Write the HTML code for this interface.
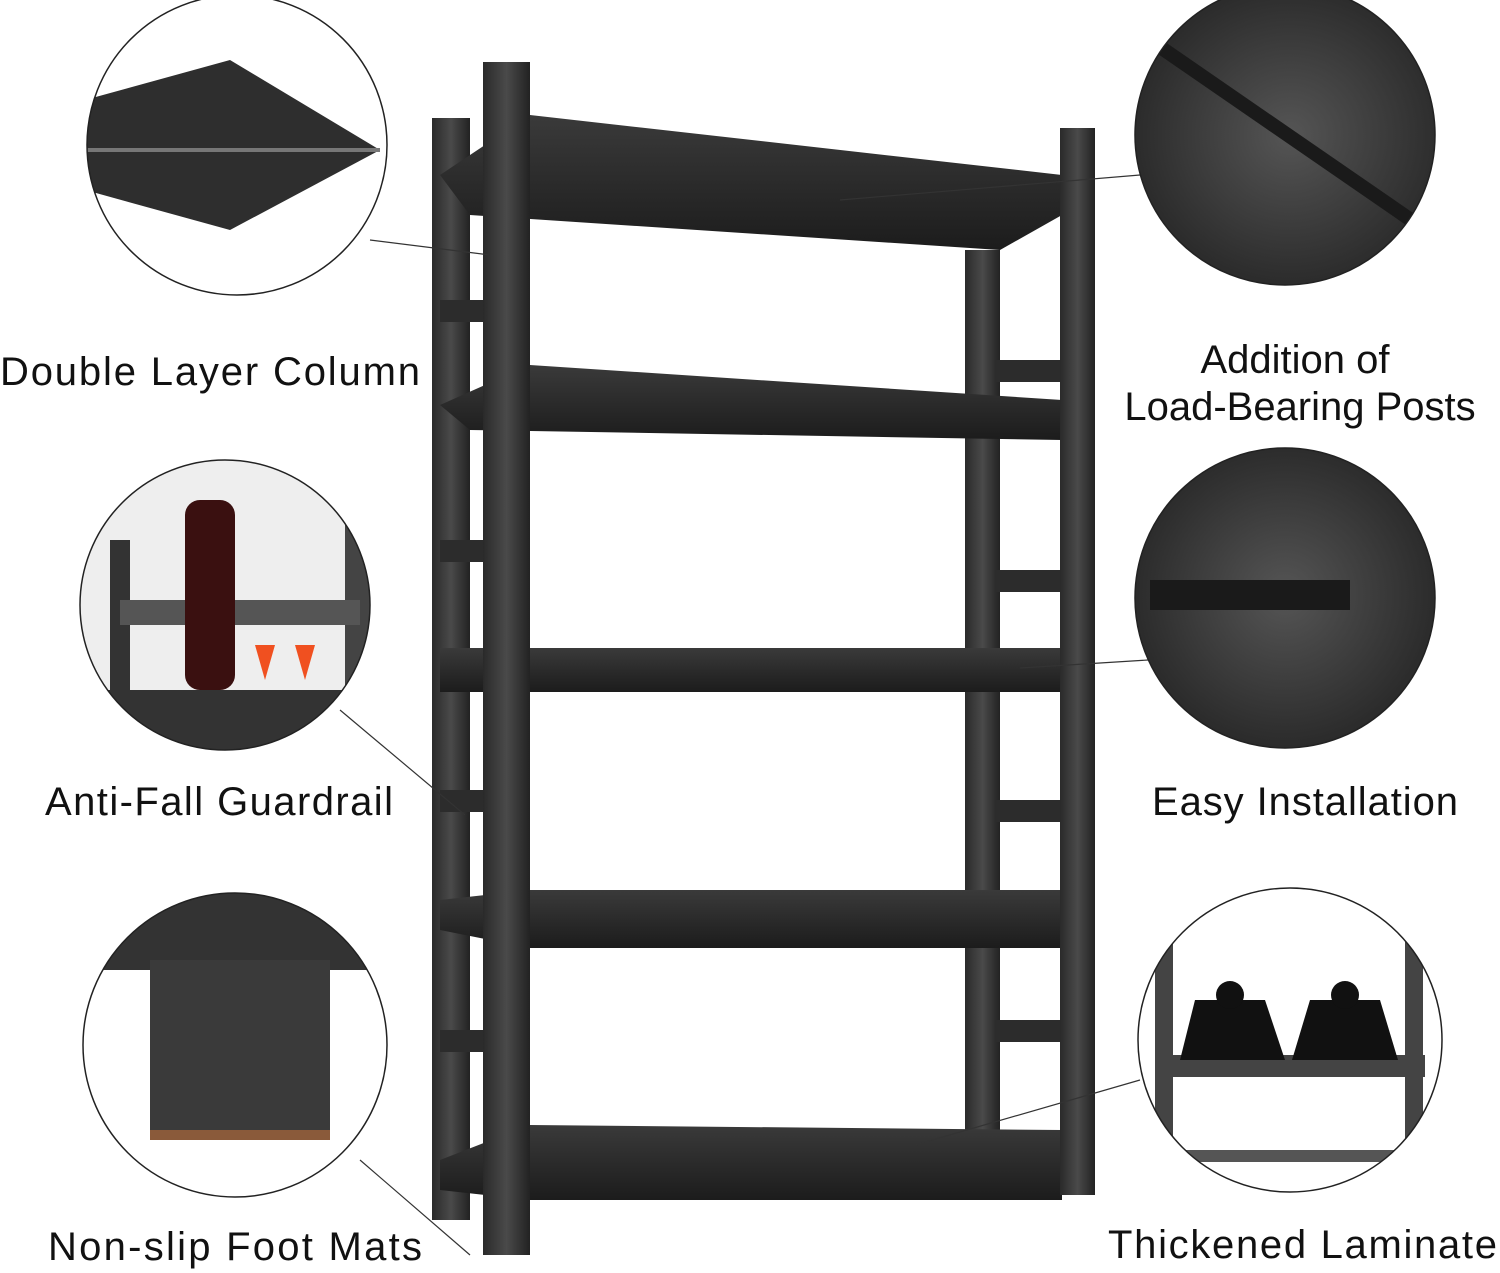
<!DOCTYPE html>
<html><head><meta charset="utf-8"><style>
html,body{margin:0;padding:0;background:#fff;}
svg{display:block}
text{font-family:"Liberation Sans",sans-serif;fill:#111;font-size:40px}
</style></head><body>
<svg width="1500" height="1273" viewBox="0 0 1500 1273" xmlns="http://www.w3.org/2000/svg">
<defs>
<linearGradient id="post" x1="0" x2="1"><stop offset="0" stop-color="#2a2a2a"/><stop offset=".5" stop-color="#4a4a4a"/><stop offset="1" stop-color="#222"/></linearGradient>
<linearGradient id="shelf" x1="0" y1="0" x2="0" y2="1"><stop offset="0" stop-color="#3a3a3a"/><stop offset="1" stop-color="#1c1c1c"/></linearGradient>
<radialGradient id="dk"><stop offset="0" stop-color="#555"/><stop offset="1" stop-color="#2a2a2a"/></radialGradient>
<clipPath id="c1"><circle cx="237" cy="145" r="150"/></clipPath>
<clipPath id="c2"><circle cx="1285" cy="135" r="150"/></clipPath>
<clipPath id="c3"><circle cx="225" cy="605" r="145"/></clipPath>
<clipPath id="c4"><circle cx="1285" cy="598" r="150"/></clipPath>
<clipPath id="c5"><circle cx="235" cy="1045" r="152"/></clipPath>
<clipPath id="c6"><circle cx="1290" cy="1040" r="152"/></clipPath>
</defs>

<!-- back posts -->
<rect x="432" y="118" width="38" height="1102" fill="url(#post)"/>
<rect x="965" y="250" width="35" height="915" fill="url(#post)"/>
<!-- side rungs -->
<g fill="#2c2c2c">
<rect x="440" y="300" width="45" height="22"/><rect x="440" y="540" width="45" height="22"/>
<rect x="440" y="790" width="45" height="22"/><rect x="440" y="1030" width="45" height="22"/>
<rect x="995" y="360" width="65" height="22"/><rect x="995" y="570" width="65" height="22"/>
<rect x="995" y="800" width="65" height="22"/><rect x="995" y="1020" width="65" height="22"/>
</g>
<!-- shelves -->
<polygon points="440,175 530,115 1062,175 1062,215 1000,250 470,215" fill="url(#shelf)"/>
<polygon points="440,405 530,365 1062,400 1062,440 470,430" fill="url(#shelf)"/>
<rect x="440" y="648" width="622" height="44" fill="url(#shelf)"/>
<polygon points="440,900 530,890 1062,890 1062,948 530,948 440,930" fill="url(#shelf)"/>
<polygon points="440,1160 530,1125 1062,1130 1062,1200 530,1200 440,1190" fill="url(#shelf)"/>
<!-- front posts -->
<rect x="483" y="62" width="47" height="1193" fill="url(#post)"/>
<rect x="1060" y="128" width="35" height="1067" fill="url(#post)"/>

<!-- leader lines -->
<g stroke="#333" stroke-width="1.2" fill="none">
<line x1="370" y1="240" x2="490" y2="255"/>
<line x1="1140" y1="175" x2="840" y2="200"/>
<line x1="340" y1="710" x2="465" y2="815"/>
<line x1="1148" y1="660" x2="1020" y2="668"/>
<line x1="360" y1="1160" x2="470" y2="1255"/>
<line x1="1140" y1="1080" x2="915" y2="1145"/>
</g>

<!-- circles -->
<g clip-path="url(#c1)"><rect x="80" y="0" width="320" height="300" fill="#fff"/>
<polygon points="85,100 230,60 380,150 230,230 85,190" fill="#2e2e2e"/>
<line x1="85" y1="150" x2="380" y2="150" stroke="#777" stroke-width="4"/></g>
<circle cx="237" cy="145" r="150" fill="none" stroke="#222" stroke-width="1.5"/>

<g clip-path="url(#c2)"><rect x="1130" y="-20" width="320" height="310" fill="url(#dk)"/>
<line x1="1150" y1="40" x2="1440" y2="240" stroke="#1a1a1a" stroke-width="14"/></g>
<circle cx="1285" cy="135" r="150" fill="none" stroke="#222" stroke-width="1.5"/>

<g clip-path="url(#c3)"><rect x="80" y="460" width="300" height="300" fill="#eee"/>
<rect x="80" y="690" width="300" height="70" fill="#333"/>
<rect x="110" y="540" width="20" height="220" fill="#333"/>
<rect x="345" y="490" width="30" height="270" fill="#444"/>
<rect x="120" y="600" width="240" height="25" fill="#555"/>
<rect x="185" y="500" width="50" height="190" rx="15" fill="#3a1010"/>
<polygon points="255,645 275,645 265,680" fill="#f05020"/><polygon points="295,645 315,645 305,680" fill="#f05020"/></g>
<circle cx="225" cy="605" r="145" fill="none" stroke="#222" stroke-width="1.5"/>

<g clip-path="url(#c4)"><rect x="1130" y="440" width="310" height="310" fill="url(#dk)"/>
<rect x="1150" y="580" width="200" height="30" fill="#1a1a1a"/></g>
<circle cx="1285" cy="598" r="150" fill="none" stroke="#222" stroke-width="1.5"/>

<g clip-path="url(#c5)"><rect x="80" y="890" width="320" height="310" fill="#fff"/>
<rect x="80" y="890" width="320" height="80" fill="#333"/>
<rect x="150" y="960" width="180" height="180" fill="#3a3a3a"/>
<rect x="150" y="1130" width="180" height="10" fill="#8a5a3a"/></g>
<circle cx="235" cy="1045" r="152" fill="none" stroke="#222" stroke-width="1.5"/>

<g clip-path="url(#c6)"><rect x="1135" y="885" width="310" height="310" fill="#fff"/>
<rect x="1155" y="935" width="18" height="260" fill="#444"/><rect x="1405" y="935" width="18" height="260" fill="#444"/>
<rect x="1155" y="1055" width="270" height="22" fill="#444"/><rect x="1155" y="1150" width="270" height="12" fill="#555"/>
<polygon points="1195,1000 1265,1000 1285,1060 1180,1060" fill="#111"/><circle cx="1230" cy="995" r="14" fill="#111"/>
<polygon points="1310,1000 1380,1000 1398,1060 1292,1060" fill="#111"/><circle cx="1345" cy="995" r="14" fill="#111"/></g>
<circle cx="1290" cy="1040" r="152" fill="none" stroke="#222" stroke-width="1.5"/>

<!-- labels -->
<text x="0" y="385" textLength="420">Double Layer Column</text>
<text x="1295" y="373" text-anchor="middle">Addition of</text>
<text x="1300" y="420" text-anchor="middle">Load-Bearing Posts</text>
<text x="45" y="815" textLength="348">Anti-Fall Guardrail</text>
<text x="1152" y="815" textLength="306">Easy Installation</text>
<text x="48" y="1260" textLength="374">Non-slip Foot Mats</text>
<text x="1108" y="1258" textLength="389">Thickened Laminate</text>
</svg>
</body></html>
